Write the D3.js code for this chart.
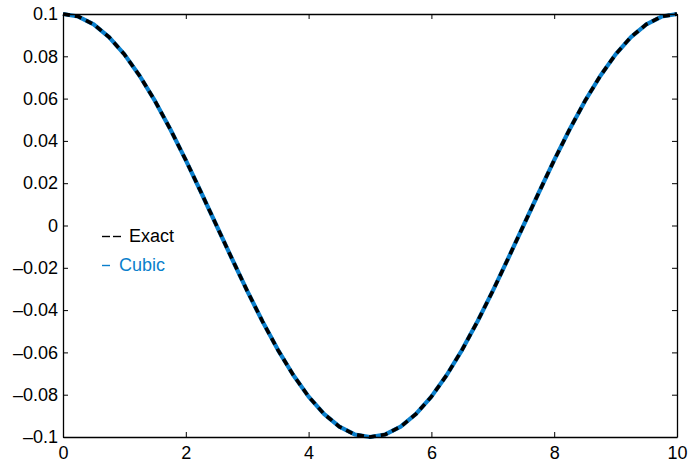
<!DOCTYPE html>
<html>
<head>
<meta charset="utf-8">
<script src="https://cdn.jsdelivr.net/npm/d3@7"></script>
<style>
  html, body { margin: 0; padding: 0; background: #fff; }
  svg { display: block; font-family: "Liberation Sans", Arial, Helvetica, sans-serif; }
</style>
</head>
<body>
<svg id="chart" width="688" height="463"></svg>
<script>
// Sample positions along x
const xs = [0, 0.25, 0.5, 0.75, 1, 1.25, 1.5, 1.75, 2, 2.25, 2.5, 2.75, 3, 3.25, 3.5, 3.75,
  4, 4.25, 4.5, 4.75, 5, 5.25, 5.5, 5.75, 6, 6.25, 6.5, 6.75, 7, 7.25, 7.5, 7.75,
  8, 8.25, 8.5, 8.75, 9, 9.25, 9.5, 9.75, 10];

// Exact solution
const exactValues = [0.1, 0.0988, 0.0951, 0.0891, 0.0809, 0.0707, 0.0588, 0.0454, 0.0309, 0.0156,
  0, -0.0156, -0.0309, -0.0454, -0.0588, -0.0707, -0.0809, -0.0891, -0.0951, -0.0988,
  -0.1, -0.0988, -0.0951, -0.0891, -0.0809, -0.0707, -0.0588, -0.0454, -0.0309, -0.0156,
  0, 0.0156, 0.0309, 0.0454, 0.0588, 0.0707, 0.0809, 0.0891, 0.0951, 0.0988, 0.1];

// Cubic approximation
const cubicValues = [0.1, 0.0988, 0.0951, 0.0891, 0.0809, 0.0707, 0.0588, 0.0454, 0.0309, 0.0156,
  0, -0.0156, -0.0309, -0.0454, -0.0588, -0.0707, -0.0809, -0.0891, -0.0951, -0.0988,
  -0.1, -0.0988, -0.0951, -0.0891, -0.0809, -0.0707, -0.0588, -0.0454, -0.0309, -0.0156,
  0, 0.0156, 0.0309, 0.0454, 0.0588, 0.0707, 0.0809, 0.0891, 0.0951, 0.0988, 0.1];

const xTicks = [0, 2, 4, 6, 8, 10];
const xTickLabels = ["0", "2", "4", "6", "8", "10"];
const yTicks = [0.1, 0.08, 0.06, 0.04, 0.02, 0, -0.02, -0.04, -0.06, -0.08, -0.1];
const yTickLabels = ["0.1", "0.08", "0.06", "0.04", "0.02", "0",
  "\u20130.02", "\u20130.04", "\u20130.06", "\u20130.08", "\u20130.1"];

const seriesNames = ["Exact", "Cubic"];
const seriesColors = ["#000000", "#0a7fcc"];

const svg = d3.select("#chart");
const plotLeft = 63, plotRight = 677, plotTop = 14, plotBottom = 437;

const x = d3.scaleLinear().domain([0, 10]).range([plotLeft, plotRight]);
const y = d3.scaleLinear().domain([-0.1, 0.1]).range([plotBottom, plotTop]);

const fontSize = 18;
const tickLen = 5;

// Curves
const line = d3.line().x((d, i) => x(xs[i])).y(d => y(d));

svg.append("path")
  .datum(cubicValues)
  .attr("d", line)
  .attr("fill", "none")
  .attr("stroke", seriesColors[1])
  .attr("stroke-width", 4.2)
  .attr("stroke-linejoin", "round");

svg.append("path")
  .datum(exactValues)
  .attr("d", line)
  .attr("fill", "none")
  .attr("stroke", seriesColors[0])
  .attr("stroke-width", 3.6)
  .attr("stroke-dasharray", "7,5");

// Axes: bottom and left with labels, top and right with ticks only
const axisBottom = d3.axisBottom(x).tickValues(xTicks)
  .tickFormat((d, i) => xTickLabels[i]).tickSizeInner(-tickLen).tickSizeOuter(0).tickPadding(9);
const axisTop = d3.axisTop(x).tickValues(xTicks)
  .tickFormat("").tickSizeInner(-tickLen).tickSizeOuter(0);
const axisLeft = d3.axisLeft(y).tickValues(yTicks)
  .tickFormat((d, i) => yTickLabels[i]).tickSizeInner(-tickLen).tickSizeOuter(0).tickPadding(5);
const axisRight = d3.axisRight(y).tickValues(yTicks)
  .tickFormat("").tickSizeInner(-tickLen).tickSizeOuter(0);

function style(g) {
  g.select(".domain").attr("stroke", "#000").attr("stroke-width", 1.3);
  g.selectAll(".tick line").attr("stroke", "#000").attr("stroke-width", 1);
  g.selectAll(".tick text").attr("fill", "#000")
    .style("font-size", fontSize + "px")
    .style("font-family", "'Liberation Sans', Arial, Helvetica, sans-serif");
}

svg.append("g").attr("transform", `translate(0,${plotBottom})`).call(axisBottom).call(style);
svg.append("g").attr("transform", `translate(0,${plotTop})`).call(axisTop).call(style);
svg.append("g").attr("transform", `translate(${plotLeft},0)`).call(axisLeft).call(style);
svg.append("g").attr("transform", `translate(${plotRight},0)`).call(axisRight).call(style);

// Legend: short dash sample(s) followed by the series name
const legend = svg.append("g");
const legendDashes = [[[102, 110], [113, 121]], [[102, 110]]];
const legendTextX = [129, 119];
seriesNames.forEach((name, i) => {
  const rowY = 242 + i * 29;
  legendDashes[i].forEach(([a, b]) => {
    legend.append("line")
      .attr("x1", a).attr("x2", b)
      .attr("y1", rowY - 5.5).attr("y2", rowY - 5.5)
      .attr("stroke", seriesColors[i])
      .attr("stroke-width", 1.4);
  });
  legend.append("text")
    .attr("x", legendTextX[i])
    .attr("y", rowY)
    .attr("fill", seriesColors[i])
    .style("font-size", fontSize + "px")
    .text(name);
});
</script>
</body>
</html>
